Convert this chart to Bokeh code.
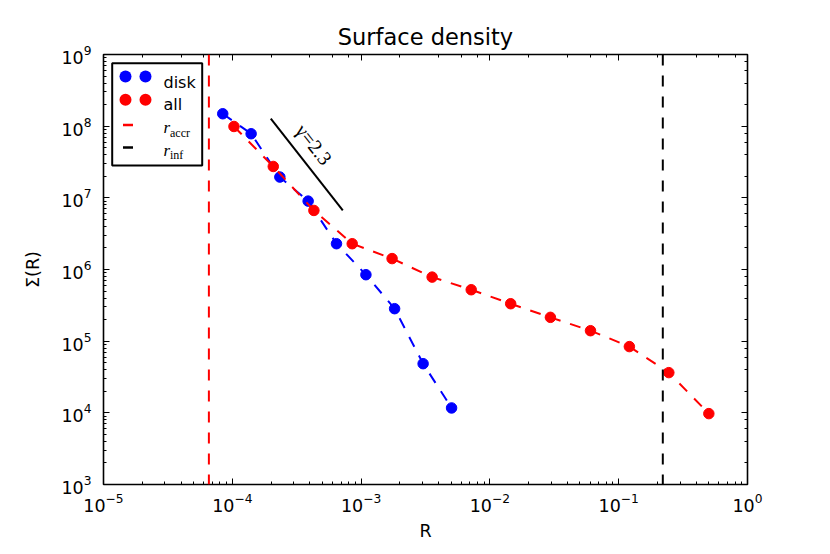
from bokeh.plotting import figure
from bokeh.models import Range1d, LogAxis, LogTicker, Span, Label, BoxAnnotation, CustomJSTickFormatter
from bokeh.embed import file_html
from bokeh.resources import INLINE

# ---- data ----
disk_r = [8.43e-5, 1.40e-4, 2.34e-4, 3.88e-4, 6.44e-4, 1.09e-3, 1.82e-3, 3.03e-3, 5.04e-3]
disk_sigma = [1.49e8, 7.84e7, 1.95e7, 9.0e6, 2.29e6, 8.46e5, 2.84e5, 4.85e4, 1.17e4]
all_r = [1.03e-4, 2.08e-4, 4.30e-4, 8.53e-4, 1.74e-3, 3.56e-3, 7.16e-3, 1.45e-2,
         2.95e-2, 6.04e-2, 0.121, 0.245, 0.501]
all_sigma = [9.9e7, 2.74e7, 6.67e6, 2.29e6, 1.42e6, 7.83e5, 5.22e5, 3.33e5,
             2.15e5, 1.40e5, 8.4e4, 3.64e4, 9.75e3]
r_accr = 6.58e-5
r_inf = 0.220
slope_r = [1.99e-4, 7.21e-4]
slope_sigma = [1.27e8, 6.67e6]
slope_label = "γ=2.3"
slope_label_r = 4.30e-4
slope_label_sigma = 5.56e7

FONT = "DejaVu Sans"
DASH = "11 10"

p = figure(width=830, height=554, x_axis_type="log", y_axis_type="log",
           x_range=Range1d(1e-5, 1), y_range=Range1d(1e3, 1e9),
           output_backend="svg", toolbar_location=None,
           min_border_left=103, min_border_right=83, min_border_top=54, min_border_bottom=70,
           title="Surface density")
p.background_fill_color = "white"
p.border_fill_color = "white"
p.outline_line_color = "black"
p.outline_line_width = 1.6
p.xgrid.visible = False
p.ygrid.visible = False

p.title.text_font = FONT
p.title.text_font_size = "22.5px"
p.title.text_font_style = "normal"
p.title.align = "center"
p.title.text_color = "black"

def style(ax, labels=True):
    ax.axis_line_color = None
    ax.major_tick_in = 6
    ax.major_tick_out = 0
    ax.minor_tick_in = 3
    ax.minor_tick_out = 0
    ax.major_tick_line_color = "black"
    ax.minor_tick_line_color = "black"
    ax.major_tick_line_width = 1
    ax.minor_tick_line_width = 1
    if labels:
        ax.major_label_text_font = FONT
        ax.major_label_text_font_size = "17.5px"
        ax.major_label_text_color = "black"
        ax.axis_label_text_font = FONT
        ax.axis_label_text_font_size = "17.5px"
        ax.axis_label_text_font_style = "normal"
        ax.axis_label_text_color = "black"
    else:
        ax.formatter = CustomJSTickFormatter(code="return ''")
        ax.major_label_text_font_size = "1px"
        ax.major_label_standoff = 0

style(p.xaxis[0])
style(p.yaxis[0])
p.xaxis.axis_label = "R"
p.yaxis.axis_label = "Σ(R)"
p.xaxis.major_label_standoff = 8
p.yaxis.major_label_standoff = 12
p.xaxis.axis_label_standoff = 6
p.yaxis.axis_label_standoff = 15

top = LogAxis(ticker=LogTicker())
style(top, labels=False)
p.add_layout(top, "above")
right = LogAxis(ticker=LogTicker())
style(right, labels=False)
p.add_layout(right, "right")

# vertical reference radii
p.add_layout(Span(location=r_accr, dimension="height", line_color="red",
                  line_width=2, line_dash=DASH))
p.add_layout(Span(location=r_inf, dimension="height", line_color="black",
                  line_width=2, line_dash=DASH))

# slope guide
p.line(slope_r, slope_sigma, line_color="black", line_width=2)
p.add_layout(Label(x=slope_label_r, y=slope_label_sigma, text=slope_label,
                   angle=-0.9, text_align="center", text_baseline="middle",
                   text_font="Liberation Serif", text_font_size="20px",
                   text_color="black"))

# series
p.line(disk_r, disk_sigma, line_color="blue", line_width=2, line_dash=DASH)
p.scatter(disk_r, disk_sigma, size=10.5, fill_color="blue", line_color="blue")
p.line(all_r, all_sigma, line_color="red", line_width=2, line_dash=DASH)
p.scatter(all_r, all_sigma, size=10.5, fill_color="red", line_color="red")

# legend (built from screen-space annotations, relative to the frame)
def sbox(l, r, b, t, color, radius=0, lw=0, fill=None):
    return BoxAnnotation(left=l, right=r, bottom=b, top=t,
                         left_units="screen", right_units="screen",
                         bottom_units="screen", top_units="screen",
                         fill_color=fill if fill is not None else color, fill_alpha=1,
                         line_color=color, line_width=lw, line_alpha=1 if lw else 0,
                         border_radius=radius, level="overlay")

p.add_layout(sbox(8.7, 98.7, 319, 421.3, "black", lw=2, fill="white"))
ms = 6
for cx in (22, 42):
    p.add_layout(sbox(cx - ms, cx + ms, 408 - ms, 408 + ms, "blue", radius=ms))
    p.add_layout(sbox(cx - ms, cx + ms, 384.7 - ms, 384.7 + ms, "red", radius=ms))
p.add_layout(sbox(19.5, 29.5, 358.3, 360.7, "red"))
p.add_layout(sbox(19.5, 29.5, 335.8, 338.2, "black"))

def slabel(x, y, text, size, font=FONT, style="normal"):
    return Label(x=x, y=y, x_units="screen", y_units="screen", text=text,
                 text_font=font, text_font_size=size, text_font_style=style,
                 text_color="black", text_baseline="alphabetic", level="overlay")

p.add_layout(slabel(60, 402.3, "disk", "16px"))
p.add_layout(slabel(60, 379.7, "all", "16px"))
p.add_layout(slabel(60, 356.7, "r", "17px", font="Liberation Serif", style="italic"))
p.add_layout(slabel(66.5, 352, "accr", "12px", font="Liberation Serif"))
p.add_layout(slabel(60, 334, "r", "17px", font="Liberation Serif", style="italic"))
p.add_layout(slabel(66.5, 329.3, "inf", "12px", font="Liberation Serif"))

open("out.html", "w").write(file_html(p, INLINE))
